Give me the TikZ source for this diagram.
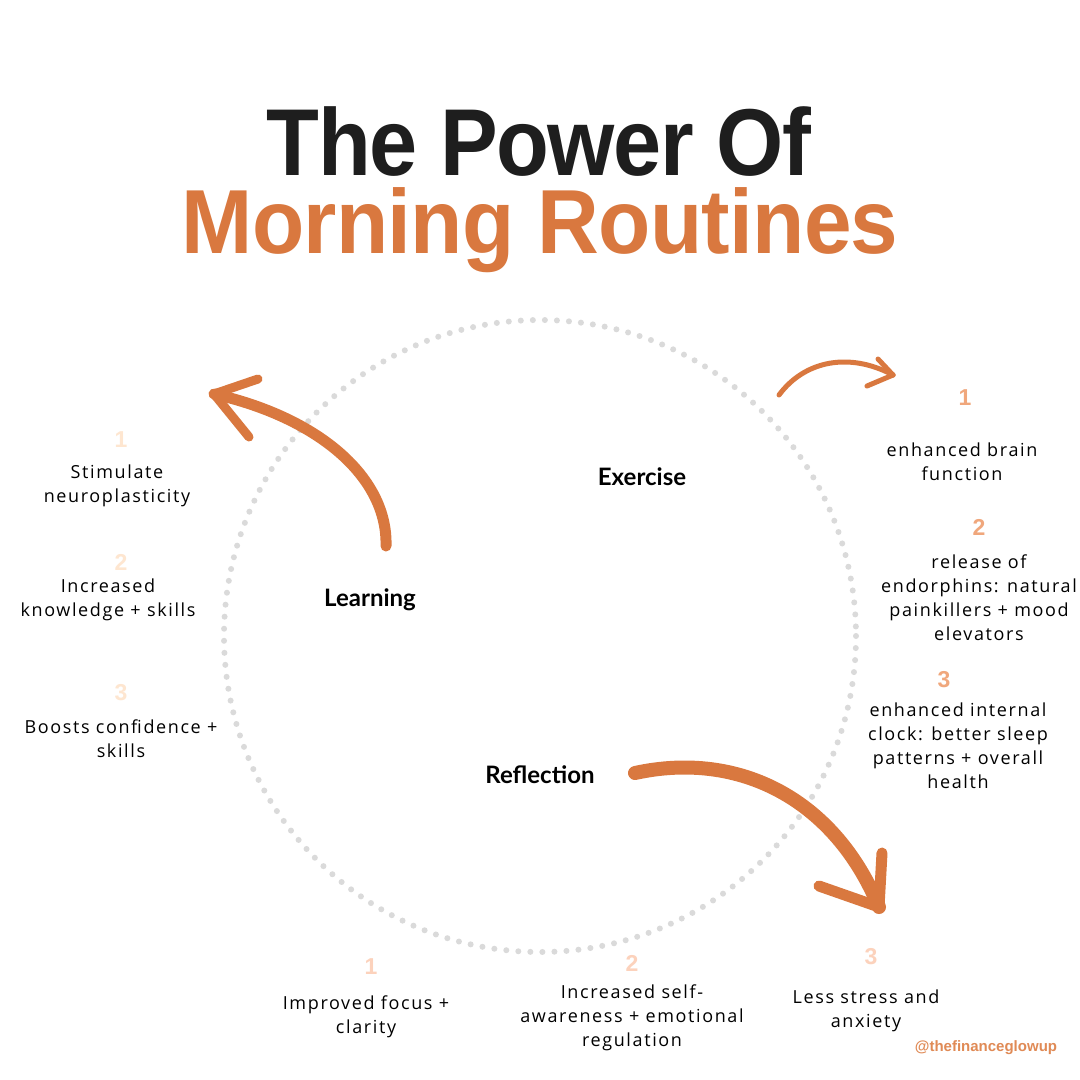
\documentclass[tikz,border=0pt]{standalone}
\usepackage{fontspec}
\setmainfont{Liberation Sans}
\newfontfamily\titlefont[FakeStretch=0.91,LetterSpace=-1.5]{Liberation Sans}
\newfontfamily\subtitlefont[FakeStretch=0.94,LetterSpace=-0.8]{Liberation Sans}
\newfontfamily\handfont[LetterSpace=9]{Open Sans}
\newfontfamily\topicfont{Lato}
\usetikzlibrary{arrows.meta}
\definecolor{routineorange}{HTML}{D9783F}
\definecolor{titleblack}{HTML}{1E1E1E}
\definecolor{dotgray}{HTML}{DADADA}
\definecolor{numpale}{HTML}{FEE6D0}
\definecolor{numpeach}{HTML}{F0A77C}
\definecolor{numsoft}{HTML}{FCD2BC}
\definecolor{handleorange}{HTML}{E08A55}

\begin{document}
\begin{tikzpicture}[x=1pt,y=-1pt,
  num/.style={inner sep=0pt,font=\bfseries\fontsize{23}{23}\selectfont},
  note/.style={inner sep=0pt,align=center,text=black,font=\handfont\fontsize{18}{24}\selectfont},
  topic/.style={inner sep=0pt,text=black,font=\topicfont\bfseries\fontsize{24}{24}\selectfont},
  brush/.style={draw=routineorange,line cap=round,line join=round}]
\useasboundingbox[fill=white] (0,0) rectangle (1080,1080);

% title
\node[anchor=base,inner sep=0pt,text depth=0pt,text=titleblack,font=\titlefont\bfseries\fontsize{95}{95}\selectfont] (title) at (539,175) {The Power Of};
\node[anchor=base,inner sep=0pt,text height=62pt,text=routineorange,font=\subtitlefont\bfseries\fontsize{91}{91}\selectfont] (subtitle) at (540,253) {Morning Routines};

% dotted ring
\draw[dotgray,line width=6,line cap=round,dash pattern=on 0pt off 12.05pt] (540,636) circle[radius=316];

% arrows
\coordinate (learnTail) at (386,546);
\coordinate (learnTip) at (214,394);
\draw[brush,line width=11] (learnTail) .. controls (388,478) and (320,418) .. (learnTip);
\draw[brush,line width=9] (learnTip) -- (258,379);
\draw[brush,line width=9] (learnTip) -- (249,437);

\coordinate (exerTail) at (779,395);
\coordinate (exerTip) at (893,375);
\draw[brush,line width=5] (exerTail) .. controls (805,360) and (850,352) .. (exerTip);
\draw[brush,line width=5] (exerTip) -- (878,359);
\draw[brush,line width=5] (exerTip) -- (867,386);

\coordinate (reflTail) at (635,773);
\coordinate (reflTip) at (879,907);
\draw[brush,line width=14] (reflTail) .. controls (740,750) and (835,800) .. (reflTip);
\draw[brush,line width=11] (reflTip) -- (819,886);
\draw[brush,line width=11] (reflTip) -- (882,853);

% topics
\node[topic] (exercise) at (642,477) {Exercise};
\node[topic] (learning) at (370,600) {Learning};
\node[topic] (reflection) at (540,775) {Reflection};

% learning column
\node[num,text=numpale] (l1) at (121,440) {1};
\node[note] (l1t) at (117,486) {Stimulate\\neuroplasticity};
\node[num,text=numpale] (l2) at (121,562) {2};
\node[note] (l2t) at (108,600) {Increased\\knowledge + skills};
\node[num,text=numpale] (l3) at (121,693) {3};
\node[note] (l3t) at (121,739) {Boosts confidence +\\skills};

% exercise column
\node[num,text=numpeach] (e1) at (965,398) {1};
\node[note] (e1t) at (962,462) {enhanced brain\\function};
\node[num,text=numpeach] (e2) at (979,527) {2};
\node[note] (e2t) at (979,598) {release of\\endorphins: natural\\painkillers + mood\\elevators};
\node[num,text=numpeach] (e3) at (944,680) {3};
\node[note] (e3t) at (958,746) {enhanced internal\\clock: better sleep\\patterns + overall\\health};

% reflection row
\node[num,text=numsoft] (r1) at (371,967) {1};
\node[note] (r1t) at (366,1017) {Improved focus +\\clarity};
\node[num,text=numsoft] (r2) at (632,963) {2};
\node[note] (r2t) at (632,1018) {Increased self-\\awareness + emotional\\regulation};
\node[num,text=numsoft] (r3) at (871,957) {3};
\node[note] (r3t) at (866,1011) {Less stress and\\anxiety};

\node[inner sep=0pt,text=handleorange,font=\bfseries\fontsize{15}{15}\selectfont] (handle) at (986,1048) {@thefinanceglowup};
\end{tikzpicture}
\end{document}
